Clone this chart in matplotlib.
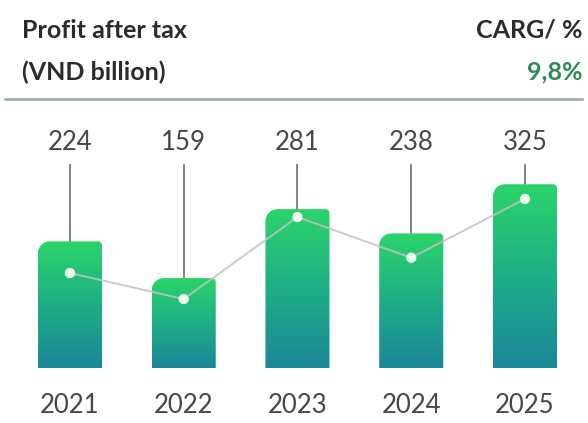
import matplotlib
matplotlib.use("Agg")
import matplotlib.pyplot as plt
import numpy as np
from matplotlib.path import Path
from matplotlib.patches import PathPatch
from matplotlib.colors import LinearSegmentedColormap

# --- data ---------------------------------------------------------------
years = ["2021", "2022", "2023", "2024", "2025"]
profit = [224, 159, 281, 238, 325]          # profit after tax, VND billion
trend = [168, 122, 267, 195, 299]           # level of the connecting line markers
cagr_label = "9,8%"

# --- figure ---------------------------------------------------------------
W, H = 588, 423
fig = plt.figure(figsize=(W / 100, H / 100), dpi=100)
fig.patch.set_facecolor("white")

ax = fig.add_axes([0, 1 - 368 / H, 1, 268 / H])
ax.set_xlim(-0.615, 4.554)
ax.set_ylim(0, 474)
ax.axis("off")

px_x = 113.75    # pixels per category step
px_y = 0.565     # pixels per value unit
bar_w = 0.563

cmap = LinearSegmentedColormap.from_list("bar", ["#1b8799", "#1fae86", "#2bd46a"])
grad = np.linspace(0, 1, 256).reshape(-1, 1)


def bar_path(x0, x1, top, r_left=12, r_right=4):
    # rectangle with a rounded top-left corner and a softer top-right one
    rlx, rly = r_left / px_x, r_left / px_y
    rrx, rry = r_right / px_x, r_right / px_y
    k = 0.5523
    verts = [
        (x0, 0), (x1, 0), (x1, top - rry),
        (x1, top - rry + k * rry), (x1 - rrx + k * rrx, top), (x1 - rrx, top),
        (x0 + rlx, top),
        (x0 + rlx - k * rlx, top), (x0, top - rly + k * rly), (x0, top - rly),
        (x0, 0),
    ]
    codes = [Path.MOVETO, Path.LINETO, Path.LINETO,
             Path.CURVE4, Path.CURVE4, Path.CURVE4,
             Path.LINETO,
             Path.CURVE4, Path.CURVE4, Path.CURVE4,
             Path.CLOSEPOLY]
    return Path(verts, codes)


label_y = 398
stem_top = 359
lbl = dict(ha="center", va="center", fontsize=18.5, family="Lato",
           fontweight="normal", color="#474747")
for i, (yr, v) in enumerate(zip(years, profit)):
    x0, x1 = i - bar_w / 2, i + bar_w / 2
    patch = PathPatch(bar_path(x0, x1, v), facecolor="none", edgecolor="none")
    ax.add_patch(patch)
    im = ax.imshow(grad, cmap=cmap, aspect="auto", origin="lower",
                   extent=[x0, x1, 0, v], zorder=2, interpolation="bicubic")
    im.set_clip_path(patch)
    # value label with stem down to the bar
    ax.plot([i, i], [v, stem_top], color="#7a7a7a", lw=1.3, zorder=1)
    ax.text(i, label_y, str(v), **lbl)
    ax.text(i, -66, yr, **lbl)

ax.set_xlim(-0.615, 4.554)
ax.set_ylim(0, 474)

xs = np.arange(len(years))
ax.plot(xs, trend, color="#c2c2c2", lw=1.4, alpha=0.85, zorder=3)
ax.scatter(xs, trend, s=55, color="#eafff0", edgecolor="none", zorder=4)

# --- header ---------------------------------------------------------------
hdr = dict(fontsize=18, family="Lato", fontweight="bold", va="center")
fig.text(22 / W, 1 - 30 / H, "Profit after tax", ha="left", color="#2b2b2b", **hdr)
fig.text(22 / W, 1 - 72 / H, "(VND billion)", ha="left", color="#2b2b2b", **hdr)
fig.text(582 / W, 1 - 30 / H, "CARG/ %", ha="right", color="#2b2b2b", **hdr)
fig.text(582 / W, 1 - 72 / H, cagr_label, ha="right", color="#2e8a5a", **hdr)
fig.add_artist(plt.Line2D([5 / W, 582 / W], [1 - 99 / H, 1 - 99 / H],
                          color="#94aaa2", lw=1.8))

fig.savefig("out.png", dpi=100, facecolor="white")
